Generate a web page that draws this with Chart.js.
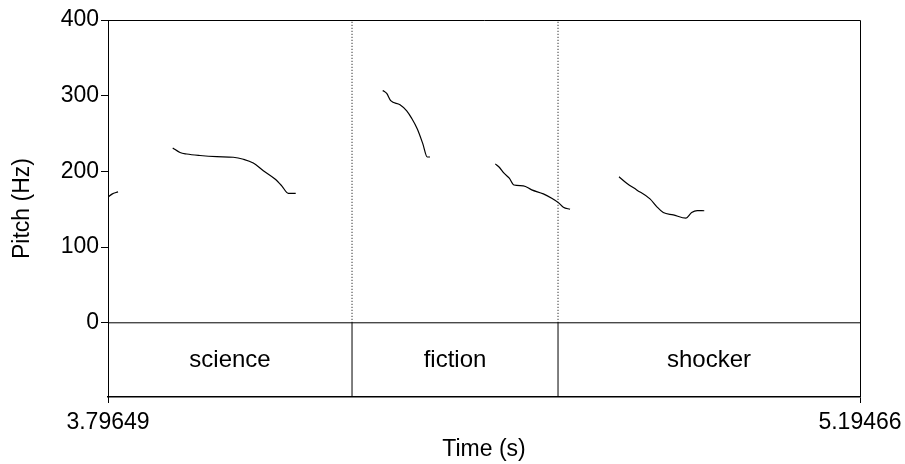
<!DOCTYPE html>
<html>
<head>
  <meta charset="UTF-8">
  <title>Pitch</title>
  <script src="https://cdn.jsdelivr.net/npm/chart.js"></script>
  <style>body { margin: 0; background: #fff; }</style>
</head>
<body>
  <canvas id="chart" width="905" height="464"></canvas>

  <script>
    const timeRange = [3.79649, 5.19466];
    const xTickLabels = ['3.79649', '5.19466'];
    const yTicks = [0, 100, 200, 300, 400];
    const tierBottom = -98;
    const tierLabels = ['science', 'fiction', 'shocker'];
    const tierBounds = [3.79649, 4.2502, 4.6332, 5.19466];

    // pitch contours, [time (s), pitch (Hz)]
    const contour1 = [[3.7966, 166], [3.8039, 170], [3.8151, 173]];
    const contour2 = [[3.9168, 231], [3.9304, 225], [3.9428, 223], [3.9675, 221], [3.9986, 219.5],
      [4.0295, 218.7], [4.0481, 216], [4.0666, 211], [4.0853, 201], [4.1070, 190], [4.1195, 181],
      [4.1317, 171], [4.1455, 171]];
    const contour3 = [[4.3073, 307], [4.3147, 303], [4.3221, 293.5], [4.3394, 288], [4.3519, 280],
      [4.3612, 270], [4.3716, 256], [4.3816, 237], [4.3901, 219], [4.3952, 219]];
    const contour4 = [[4.5166, 210], [4.5240, 205.5], [4.5328, 197.6], [4.5426, 191], [4.5514, 182],
      [4.5687, 181], [4.5843, 175.6], [4.6059, 170.3], [4.6215, 164.6], [4.6338, 158.8],
      [4.6431, 152.7], [4.6556, 150]];
    const contour5 = [[4.7466, 193], [4.7609, 184.4], [4.7795, 175.6], [4.8042, 163.7], [4.8167, 153.5],
      [4.8289, 145.6], [4.8475, 142.6], [4.8711, 138.2], [4.8817, 145.6], [4.8921, 148.2], [4.9051, 148]];

    const contours = [contour1, contour2, contour3, contour4, contour5];

    Chart.defaults.font.family = '"Liberation Sans", Arial, sans-serif';
    Chart.defaults.font.size = 23;
    Chart.defaults.color = '#000';

    const datasets = contours.map(c => ({
      data: c.map(p => ({ x: p[0], y: p[1] })),
      borderColor: '#000',
      borderWidth: 1.2,
      cubicInterpolationMode: 'monotone',
      pointRadius: 0
    }));

    datasets.push({
      data: [{ x: timeRange[0], y: 0 }, { x: timeRange[1], y: 0 }],
      borderColor: '#000', borderWidth: 1, pointRadius: 0
    });

    tierBounds.slice(1, -1).forEach(b => {
      datasets.push({
        data: [{ x: b, y: 0 }, { x: b, y: 400 }],
        borderColor: '#000', borderWidth: 1, borderDash: [1, 2], pointRadius: 0
      });
      datasets.push({
        data: [{ x: b, y: tierBottom }, { x: b, y: 0 }],
        borderColor: '#000', borderWidth: 1, pointRadius: 0
      });
    });

    const framePlugin = {
      id: 'frame',
      afterDatasetsDraw(chart) {
        const { ctx, chartArea, scales } = chart;
        ctx.save();
        ctx.strokeStyle = '#000';
        ctx.lineWidth = 1;
        ctx.beginPath();
        ctx.moveTo(chartArea.left, chartArea.top + 0.5);
        ctx.lineTo(chartArea.right + 0.5, chartArea.top + 0.5);
        ctx.lineTo(chartArea.right + 0.5, chartArea.bottom);
        ctx.stroke();

        ctx.font = '24px "Liberation Sans", Arial, sans-serif';
        ctx.fillStyle = '#000';
        ctx.textAlign = 'center';
        ctx.textBaseline = 'middle';
        const ty = scales.y.getPixelForValue(tierBottom / 2);
        tierLabels.forEach((label, i) => {
          const tx = scales.x.getPixelForValue((tierBounds[i] + tierBounds[i + 1]) / 2);
          ctx.fillText(label, tx, ty);
        });
        ctx.restore();
      }
    };

    new Chart(document.getElementById('chart'), {
      type: 'line',
      data: { datasets: datasets },
      plugins: [framePlugin],
      options: {
        responsive: false,
        animation: false,
        layout: { padding: { top: 20, right: 45 } },
        plugins: { legend: { display: false }, tooltip: { enabled: false } },
        scales: {
          x: {
            type: 'linear',
            min: timeRange[0],
            max: timeRange[1],
            afterBuildTicks: scale => {
              scale.ticks = timeRange.map(v => ({ value: v }));
            },
            afterFit: scale => {
              scale.height = 67;
              scale.paddingRight = 0;
              scale.paddingLeft = 0;
            },
            ticks: {
              maxRotation: 0,
              autoSkip: false,
              padding: 6,
              callback: (v, i) => xTickLabels[i]
            },
            grid: { drawOnChartArea: false, tickLength: 6, color: '#000' },
            border: { color: '#000', width: 1.5 },
            title: { display: true, text: 'Time (s)', padding: { top: 0, bottom: 1 } }
          },
          y: {
            min: tierBottom,
            max: 400,
            afterBuildTicks: scale => {
              scale.ticks = yTicks.map(v => ({ value: v }));
            },
            afterFit: scale => { scale.width = 108; },
            ticks: { padding: 2 },
            grid: { drawOnChartArea: false, tickLength: 7, color: '#000' },
            border: { color: '#000', width: 1 },
            title: { display: true, text: 'Pitch (Hz)', padding: { top: 9, bottom: 0 } }
          }
        }
      }
    });
  </script>
</body>
</html>
